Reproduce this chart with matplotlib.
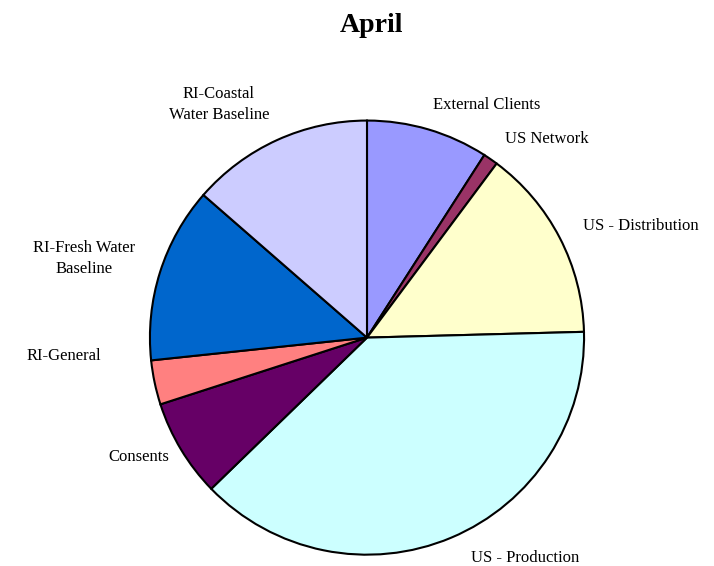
import matplotlib.pyplot as plt

# slice data, clockwise from 12 o'clock
names = ["External Clients", "US Network", "US - Distribution", "US - Production",
         "Consents", "RI-General", "RI-Fresh Water\nBaseline", "RI-Coastal\nWater Baseline"]
share = [9.1, 1.1, 14.4, 38.2, 7.3, 3.3, 13.1, 13.6]
colors = ["#9999FF", "#993366", "#FFFFCC", "#CCFFFF",
          "#660066", "#FF8080", "#0066CC", "#CCCCFF"]

# where each label sits (in radius units)
label_pos = [(0.553, 1.074), (0.829, 0.917), (1.263, 0.512), (0.728, -1.014),
             (-1.051, -0.548), (-1.396, -0.083), (-1.304, 0.364), (-0.682, 1.074)]

plt.rcParams["font.family"] = ["Liberation Serif", "DejaVu Serif"]

fig = plt.figure(figsize=(7.14, 5.66), dpi=100)
ax = fig.add_axes([0.514 - 0.304, 0.403 - 0.383, 0.608, 0.767])

wedges, texts = ax.pie(share, labels=names, colors=colors, startangle=90,
                       counterclock=False, radius=1.0,
                       wedgeprops=dict(edgecolor="black", linewidth=1.5))
for t, (x, y) in zip(texts, label_pos):
    t.set_position((x, y))
    t.set_ha("center")
    t.set_va("center")
    t.set_fontsize(12)
    t.set_linespacing(1.45)

ax.set_xlim(-1, 1)
ax.set_ylim(-1, 1)
ax.set_aspect("equal")
ax.axis("off")

fig.text(0.52, 0.955, "April", ha="center", va="center",
         fontsize=20, fontweight="bold")

fig.savefig("out.png", dpi=100)
